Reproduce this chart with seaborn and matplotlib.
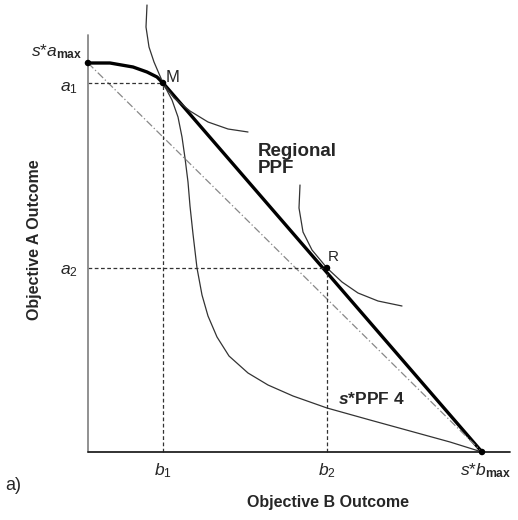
import matplotlib
matplotlib.use('Agg')
import matplotlib.pyplot as plt
import seaborn as sns
import pandas as pd

# ── Data (schematic units, origin at the axes corner) ─────────────────────
top_pt  = (0, 389)      # (0, s*a_max)
m_pt    = (75, 369)     # M = (b1, a1)
r_pt    = (239, 184)    # R = (b2, a2)
bmax_pt = (394, 0)      # (s*b_max, 0)

# curved head of the frontier, from s*a_max to M
head_x = [0, 22, 45, 59, 69, 75]
head_y = [389, 389, 385, 380, 375, 369]

# s*PPF 4 below M
ppf4_x = [75, 84, 90, 94, 97, 100, 102, 105, 109, 114, 120, 129, 141, 160, 180, 205,
          239, 282, 322, 362, 394]
ppf4_y = [369, 352, 335, 315, 294, 270, 246, 218, 184, 157, 136, 115, 96, 79, 67, 56,
          44, 32, 21, 10, 0]

# indifference curves through M and R
ic1_x = [59, 58, 61, 66, 75, 86, 102, 120, 140, 160]
ic1_y = [447, 425, 405, 390, 369, 354, 341, 330, 323, 320]
ic2_x = [212, 211, 215, 224, 239, 254, 270, 290, 314]
ic2_y = [267, 244, 220, 202, 184, 170, 159, 151, 146]

plt.rcParams['mathtext.fontset'] = 'custom'
plt.rcParams['mathtext.rm'] = 'Liberation Sans'
plt.rcParams['mathtext.it'] = 'Liberation Sans:italic'
plt.rcParams['mathtext.bf'] = 'Liberation Sans:bold'
plt.rcParams['mathtext.bfit'] = 'Liberation Sans:bold:italic'

sns.set_style('white')
plt.rcParams['font.family'] = ['Liberation Sans', 'DejaVu Sans']

fig = plt.figure(figsize=(5.18, 5.20), dpi=100)
ax = fig.add_axes([0, 0, 1, 1])
ax.set_xlim(-88, 430)
ax.set_ylim(-68, 452)

thin = '#333333'

def curve(xs, ys, **kw):
    df = pd.DataFrame({'x': xs, 'y': ys})
    sns.lineplot(data=df, x='x', y='y', sort=False, estimator=None, ax=ax, **kw)

# thick regional PPF
curve(head_x, head_y, color='black', linewidth=2.4)
curve([m_pt[0], bmax_pt[0]], [m_pt[1], bmax_pt[1]], color='black', linewidth=2.4)

# thin s*PPF 4 and indifference curves
curve(ppf4_x, ppf4_y, color=thin, linewidth=0.9)
curve(ic1_x, ic1_y, color=thin, linewidth=0.9)
curve(ic2_x, ic2_y, color=thin, linewidth=0.9)

# dash-dot chord
curve([top_pt[0], bmax_pt[0]], [top_pt[1], bmax_pt[1]], color='#888888',
      linewidth=0.9, linestyle=(0, (6, 2, 1, 2)))

# dashed guides
for px, py in (m_pt, r_pt):
    ax.plot([0, px], [py, py], color=thin, linewidth=0.9, linestyle=(0, (3, 2)))
    ax.plot([px, px], [0, py], color=thin, linewidth=0.9, linestyle=(0, (3, 2)))

# points
pts = pd.DataFrame({'x': [top_pt[0], m_pt[0], r_pt[0], bmax_pt[0]],
                    'y': [top_pt[1], m_pt[1], r_pt[1], bmax_pt[1]]})
sns.scatterplot(data=pts, x='x', y='y', color='black', s=22, ax=ax, zorder=5, edgecolor='none')

# axes
for s in ax.spines.values():
    s.set_visible(False)
ax.plot([0, 0], [0, 417], color='#888888', linewidth=1.3)
ax.plot([0, 422], [0, 0], color='#222222', linewidth=1.3)
ax.set_xticks([])
ax.set_yticks([])
ax.set_xlabel('')
ax.set_ylabel('')

# labels
ax.text(-6, 400, r'$s$*$a_{\mathbf{max}}$', fontsize=12.5, ha='right', va='center')
ax.text(-10, 364, r'$a_1$', fontsize=12.5, ha='right', va='center')
ax.text(-10, 181, r'$a_2$', fontsize=12.5, ha='right', va='center')
ax.text(m_pt[0], -19, r'$b_1$', fontsize=12.5, ha='center', va='center')
ax.text(r_pt[0], -19, r'$b_2$', fontsize=12.5, ha='center', va='center')
ax.text(bmax_pt[0] + 4, -19, r'$s$*$b_{\mathbf{max}}$', fontsize=12.5, ha='center', va='center')
ax.text(-83, -34, 'a)', fontsize=13, ha='left', va='center')
ax.text(240, -50, 'Objective B Outcome', fontsize=11.5, fontweight='bold', ha='center', va='center')
ax.text(-53, 212, 'Objective A Outcome', fontsize=11.5, fontweight='bold', ha='center',
        va='center', rotation=90)
ax.text(78, 375, 'M', fontsize=12, ha='left', va='center')
ax.text(240, 195, 'R', fontsize=11, ha='left', va='center')
ax.text(170, 309, 'Regional\nPPF', fontsize=13.5, fontweight='bold', ha='left', va='top',
        linespacing=1.0)
ax.text(250, 53, r'$\mathbfit{s}$*PPF 4', fontsize=12.5, fontweight='bold', ha='left', va='center')

plt.savefig('out.png', dpi=100)
plt.close()
